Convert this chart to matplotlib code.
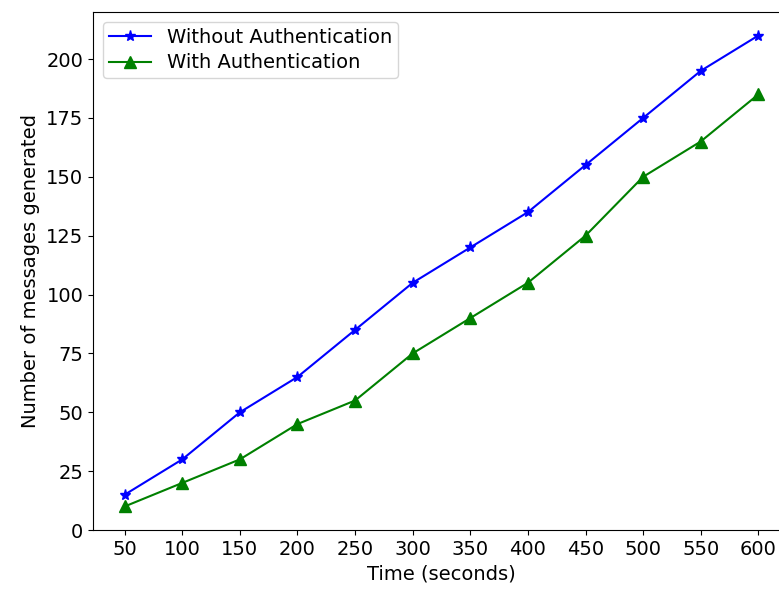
import numpy as np
import matplotlib
matplotlib.use('Agg')
import matplotlib.pyplot as plt

time_s = [50, 100, 150, 200, 250, 300, 350, 400, 450, 500, 550, 600]
without_auth = [15, 30, 50, 65, 85, 105, 120, 135, 155, 175, 195, 210]
with_auth = [10, 20, 30, 45, 55, 75, 90, 105, 125, 150, 165, 185]

plt.rcParams['font.size'] = 14

fig = plt.figure(figsize=(7.79, 5.92), dpi=100)
ax = fig.add_axes([93/779, 62/592, 697/779, 518/592])

ax.plot(time_s, without_auth, '-*', color='blue', linewidth=1.5, markersize=8,
        label='Without Authentication')
ax.plot(time_s, with_auth, '-^', color='green', linewidth=1.5, markersize=8,
        label='With Authentication')

ax.set_xticks(time_s)
ax.set_ylim(bottom=0)
ax.set_xlabel('Time (seconds)')
ax.set_ylabel('Number of messages generated')
ax.legend(loc='upper left', handlelength=2.2, borderpad=0.3, labelspacing=0.35)

fig.savefig('out.png', dpi=100)
